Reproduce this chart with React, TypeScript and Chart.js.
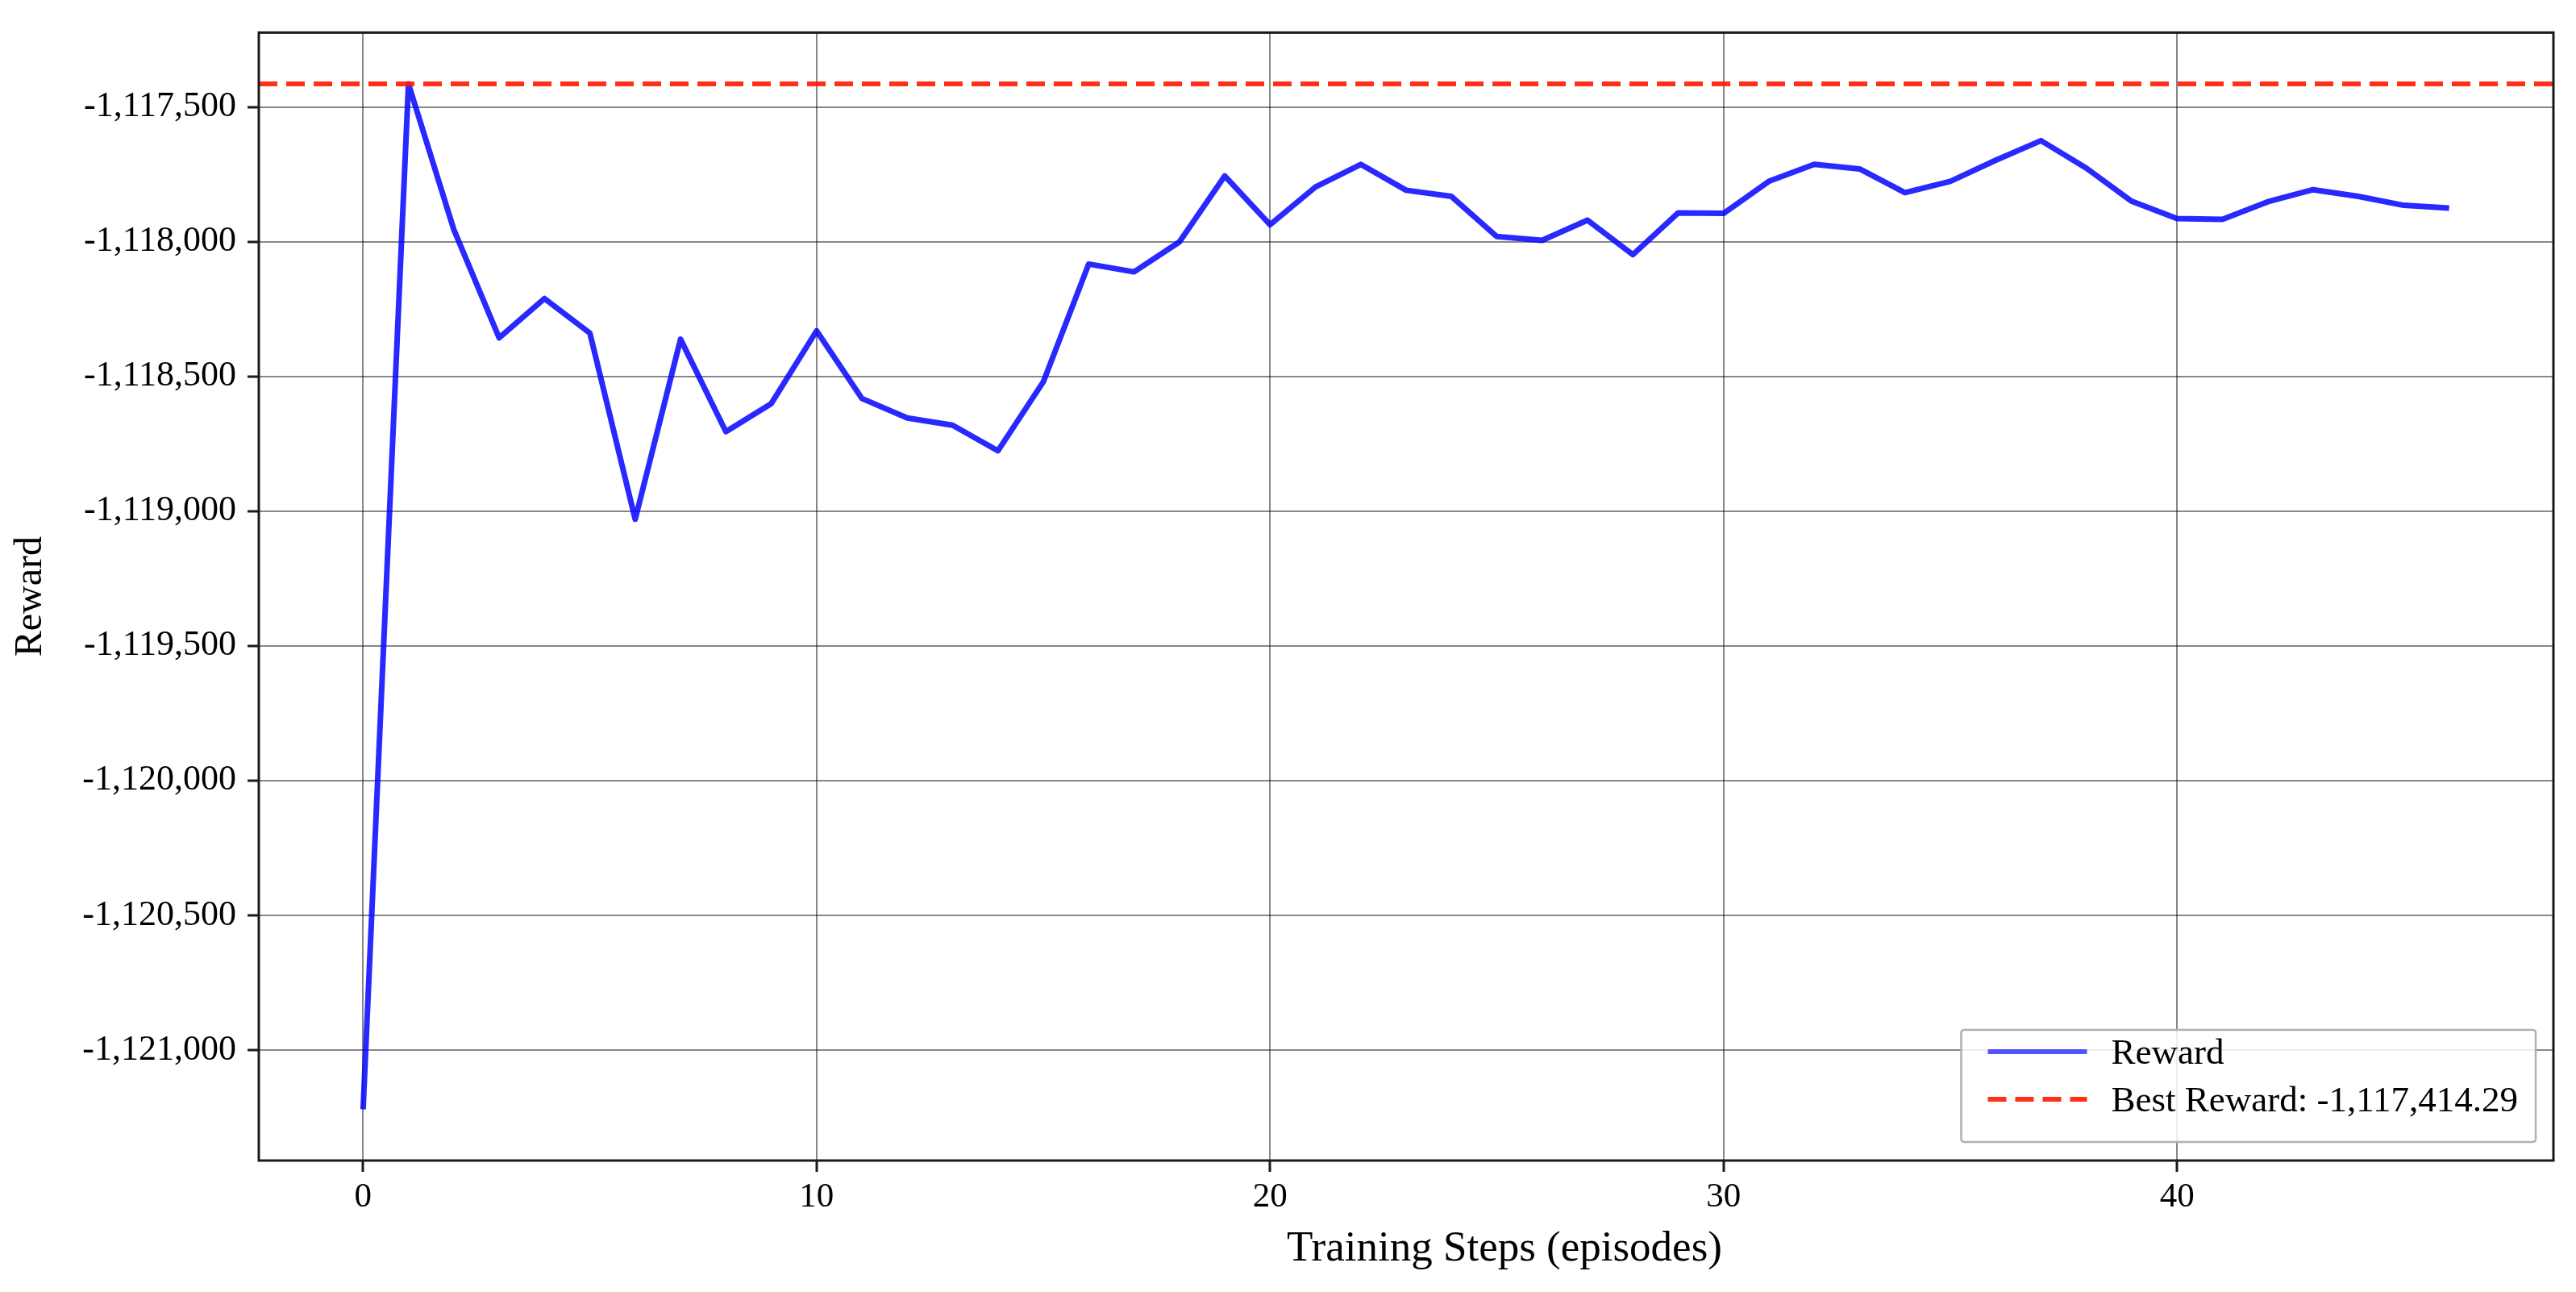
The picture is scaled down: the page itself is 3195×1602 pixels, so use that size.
import React, { useEffect, useRef } from 'react';
import { Chart, registerables } from 'chart.js';

Chart.register(...registerables);

// ---- data ----
const steps = [
  0, 1, 2, 3, 4, 5, 6, 7, 8, 9, 10, 11, 12, 13, 14, 15, 16, 17, 18, 19, 20, 21, 22, 23,
  24, 25, 26, 27, 28, 29, 30, 31, 32, 33, 34, 35, 36, 37, 38, 39, 40, 41, 42, 43, 44, 45, 46,
];
const rewards = [
  -1121220, -1117414.29, -1117955, -1118357, -1118211, -1118339, -1119030, -1118362,
  -1118705, -1118601, -1118331, -1118582, -1118654, -1118681, -1118776, -1118520,
  -1118083, -1118112, -1118001, -1117756, -1117937, -1117797, -1117713, -1117809,
  -1117832, -1117981, -1117995, -1117920, -1118048, -1117893, -1117895, -1117776,
  -1117713, -1117730, -1117818, -1117776, -1117698, -1117625, -1117727, -1117850,
  -1117914, -1117917, -1117852, -1117807, -1117832, -1117865, -1117875,
];
const bestReward = -1117414.29;
const xRange = [-2.3, 48.3];
const yRange = [-1121410, -1117224];
const xTicks = [0, 10, 20, 30, 40];
const yTicks = [-1121000, -1120500, -1120000, -1119500, -1119000, -1118500, -1118000, -1117500];
const seriesLabel = 'Reward';
const bestLabelPrefix = 'Best Reward: ';
const xTitle = 'Training Steps (episodes)';
const yTitle = 'Reward';

const W = 3195;
const H = 1602;
const FONT = "'Liberation Serif', 'DejaVu Serif', serif";
const BLUE = 'rgba(0,0,255,0.84)';
const RED = 'rgba(255,25,0,0.9)';

const fmt = (v: number) => v.toLocaleString('en-US');
const bestLabel =
  bestLabelPrefix + bestReward.toLocaleString('en-US', { minimumFractionDigits: 2, maximumFractionDigits: 2 });

const framePlugin = {
  id: 'frame',
  afterDatasetsDraw(chart: any) {
    const { ctx, chartArea } = chart;
    ctx.save();
    ctx.strokeStyle = '#1a1a1a';
    ctx.lineWidth = 3;
    ctx.strokeRect(chartArea.left, chartArea.top, chartArea.right - chartArea.left, chartArea.bottom - chartArea.top);
    ctx.restore();
  },
};

// x-axis title, drawn slightly right of the axes centre as in the reference
const xTitlePlugin = {
  id: 'xTitle',
  afterDraw(chart: any) {
    const { ctx, chartArea } = chart;
    ctx.save();
    ctx.font = `53px ${FONT}`;
    ctx.fillStyle = '#000';
    ctx.textAlign = 'center';
    ctx.textBaseline = 'alphabetic';
    ctx.fillText(xTitle, (chartArea.left + chartArea.right) / 2 + 122, chartArea.bottom + 124);
    ctx.restore();
  },
};

const legendPlugin = {
  id: 'boxLegend',
  afterDraw(chart: any) {
    const { ctx, chartArea } = chart;
    ctx.save();
    ctx.font = `45px ${FONT}`;
    const labels = [seriesLabel, bestLabel];
    const textW = Math.max(...labels.map((t) => ctx.measureText(t).width));
    const padL = 33;
    const lineLen = 123;
    const gap = 30;
    const padR = 22;
    const w = padL + lineLen + gap + textW + padR;
    const h = 139;
    const x1 = chartArea.right - 22;
    const y1 = chartArea.bottom - 23;
    const x0 = x1 - w;
    const y0 = y1 - h;
    ctx.beginPath();
    const r = 4;
    ctx.moveTo(x0 + r, y0);
    ctx.lineTo(x1 - r, y0);
    ctx.quadraticCurveTo(x1, y0, x1, y0 + r);
    ctx.lineTo(x1, y1 - r);
    ctx.quadraticCurveTo(x1, y1, x1 - r, y1);
    ctx.lineTo(x0 + r, y1);
    ctx.quadraticCurveTo(x0, y1, x0, y1 - r);
    ctx.lineTo(x0, y0 + r);
    ctx.quadraticCurveTo(x0, y0, x0 + r, y0);
    ctx.closePath();
    ctx.fillStyle = 'rgba(255,255,255,0.85)';
    ctx.fill();
    ctx.strokeStyle = '#b0b0b0';
    ctx.lineWidth = 2.5;
    ctx.stroke();

    const rows = [y0 + 27, y0 + 86];
    ctx.strokeStyle = 'rgba(40,40,255,0.8)';
    ctx.lineWidth = 6;
    ctx.setLineDash([]);
    ctx.beginPath();
    ctx.moveTo(x0 + padL, rows[0]);
    ctx.lineTo(x0 + padL + lineLen, rows[0]);
    ctx.stroke();
    ctx.strokeStyle = RED;
    ctx.lineWidth = 6;
    ctx.setLineDash([23, 11]);
    ctx.beginPath();
    ctx.moveTo(x0 + padL, rows[1]);
    ctx.lineTo(x0 + padL + lineLen, rows[1]);
    ctx.stroke();
    ctx.setLineDash([]);

    ctx.fillStyle = '#000';
    ctx.textBaseline = 'middle';
    ctx.textAlign = 'left';
    labels.forEach((t, i) => ctx.fillText(t, x0 + padL + lineLen + gap, rows[i] + 3));
    ctx.restore();
  },
};

const gridOpts = {
  color: 'rgba(0,0,0,0.47)',
  lineWidth: 2,
  drawTicks: true,
  tickLength: 14,
  tickColor: '#1a1a1a',
  tickWidth: 3,
};

export default function App() {
  const ref = useRef<HTMLCanvasElement>(null);

  useEffect(() => {
    document.body.style.margin = '0';
    const canvas = ref.current;
    if (!canvas) return;
    const chart = new Chart(canvas, {
      type: 'line',
      data: {
        datasets: [
          {
            label: bestLabel,
            data: [
              { x: xRange[0], y: bestReward },
              { x: xRange[1], y: bestReward },
            ],
            borderColor: RED,
            borderWidth: 6,
            borderDash: [23, 11],
            pointRadius: 0,
            fill: false,
          },
          {
            label: seriesLabel,
            data: steps.map((s, i) => ({ x: s, y: rewards[i] })),
            borderColor: BLUE,
            borderWidth: 7,
            pointRadius: 0,
            tension: 0,
            borderJoinStyle: 'round',
            fill: false,
          },
        ],
      } as any,
      options: {
        responsive: false,
        animation: false,
        devicePixelRatio: 1,
        layout: { padding: { top: 23, right: 28, left: 0, bottom: 0 } },
        plugins: { legend: { display: false }, tooltip: { enabled: false } },
        scales: {
          x: {
            type: 'linear',
            min: xRange[0],
            max: xRange[1],
            afterFit: (s: any) => {
              s.height = 163;
            },
            afterBuildTicks: (s: any) => {
              s.ticks = xTicks.map((v) => ({ value: v }));
            },
            ticks: {
              color: '#000',
              font: { family: FONT, size: 43 },
              padding: 6,
              maxRotation: 0,
              autoSkip: false,
              callback: (v: any) => String(v),
            },
            grid: gridOpts,
            border: { display: false },
            title: { display: false },
          },
          y: {
            type: 'linear',
            min: yRange[0],
            max: yRange[1],
            afterFit: (s: any) => {
              s.width = 321;
            },
            afterBuildTicks: (s: any) => {
              s.ticks = yTicks.map((v) => ({ value: v }));
            },
            ticks: {
              color: '#000',
              font: { family: FONT, size: 44 },
              padding: 14,
              autoSkip: false,
              callback: (v: any) => fmt(Number(v)),
            },
            grid: gridOpts,
            border: { display: false },
            title: {
              display: true,
              text: yTitle,
              color: '#000',
              font: { family: FONT, size: 48 },
              padding: { top: 10, bottom: 0 },
            },
          },
        },
      } as any,
      plugins: [framePlugin, xTitlePlugin, legendPlugin],
    });
    return () => chart.destroy();
  }, []);

  return (
    <div style={{ width: W, height: H, background: '#fff' }}>
      <canvas ref={ref} width={W} height={H} style={{ display: 'block', width: W, height: H }} />
    </div>
  );
}
